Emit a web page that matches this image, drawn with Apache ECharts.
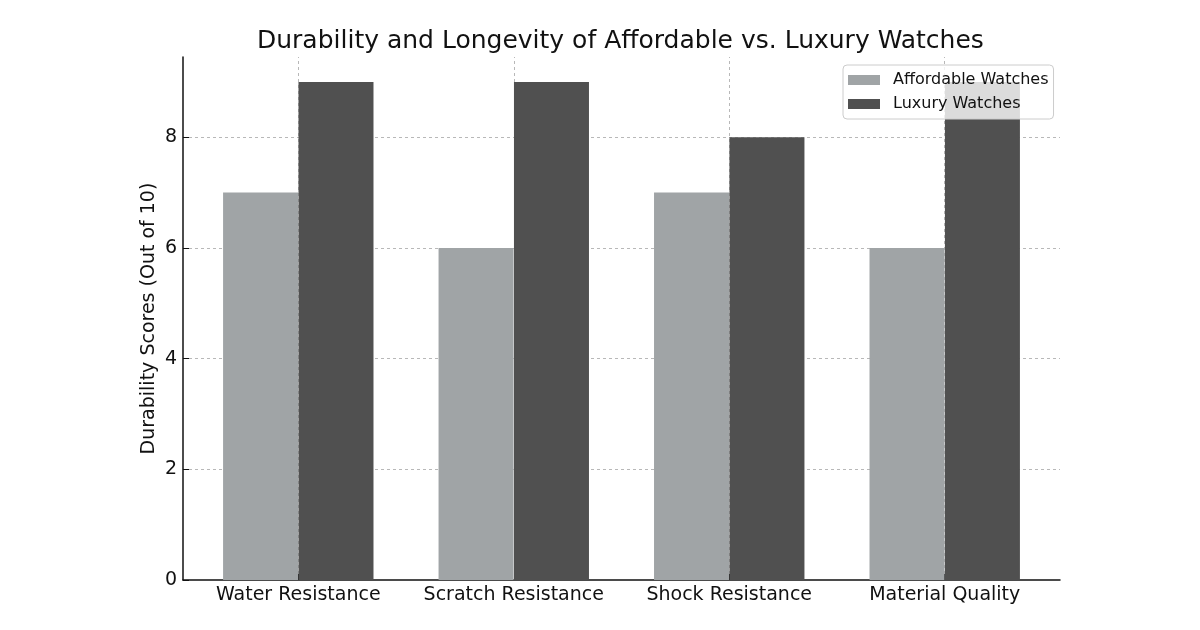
<!DOCTYPE html>
<html>
<head>
<meta charset="utf-8">
<script src="https://cdn.jsdelivr.net/npm/echarts@6/dist/echarts.min.js"></script>
<style>html,body{margin:0;padding:0;background:#fff}#c{width:1200px;height:630px}</style>
</head>
<body>
<div id="c"></div>
<script>
const categories = ['Water Resistance', 'Scratch Resistance', 'Shock Resistance', 'Material Quality'];
const affordable = [7, 6, 7, 6];
const luxury = [9, 9, 8, 9];
const yTicks = [0, 2, 4, 6, 8];
const seriesNames = ['Affordable Watches', 'Luxury Watches'];

const FONT = 'DejaVu Sans';
const GRID = '#b8b8b8';
const catIdx = categories.map((_, i) => i);

const chart = echarts.init(document.getElementById('c'), null, {renderer: 'canvas'});
chart.setOption({
  animation: false,
  backgroundColor: '#fff',
  title: {
    text: 'Durability and Longevity of Affordable vs. Luxury Watches',
    left: 252, top: 24,
    textStyle: {fontFamily: FONT, fontSize: 25, fontWeight: 'normal', color: '#111'}
  },
  legend: {
    orient: 'vertical', left: 843, top: 65,
    data: seriesNames,
    itemWidth: 32, itemHeight: 10, itemGap: 6,
    padding: [6, 5, 6, 5],
    backgroundColor: 'rgba(255,255,255,0.8)',
    borderColor: '#cccccc', borderWidth: 1, borderRadius: 4,
    textStyle: {fontFamily: FONT, fontSize: 16, color: '#111', lineHeight: 18, padding: [0, 0, 0, 8]},
    icon: 'rect'
  },
  grid: {left: 183, right: 140, top: 57, bottom: 50, containLabel: false},
  xAxis: {
    type: 'value', min: -0.535, max: 3.535,
    axisLine: {show: true, onZero: false, lineStyle: {color: '#111', width: 1.5}},
    axisTick: {show: true, inside: true, customValues: catIdx, length: 6, lineStyle: {color: '#111'}},
    axisLabel: {
      customValues: catIdx,
      formatter: v => categories[Math.round(v)] || '',
      fontFamily: FONT, fontSize: 19, color: '#111', margin: 6
    },
    splitLine: {show: false}
  },
  yAxis: {
    type: 'value', min: 0, max: 9.45, interval: 2,
    name: 'Durability Scores (Out of 10)',
    nameLocation: 'middle', nameGap: 24, nameMoveOverlap: false,
    nameTextStyle: {fontFamily: FONT, fontSize: 19, color: '#111'},
    axisLine: {show: true, onZero: false, lineStyle: {color: '#111', width: 1.5}},
    axisTick: {show: true, inside: true, customValues: yTicks, length: 6, lineStyle: {color: '#111'}},
    axisLabel: {
      customValues: yTicks,
      fontFamily: FONT, fontSize: 19, color: '#111', margin: 6
    },
    splitLine: {show: true, lineStyle: {type: [3, 3], color: ['transparent', GRID, GRID, GRID, GRID, 'transparent']}}
  },
  series: [
    {
      type: 'scatter', data: [], z: 0, silent: true,
      markLine: {
        silent: true, symbol: 'none', label: {show: false}, z: 0,
        lineStyle: {type: [3, 3], color: GRID, width: 1},
        data: catIdx.map(i => ({xAxis: i}))
      }
    },
    {
      name: seriesNames[0], type: 'bar', z: 2,
      barWidth: 75, barGap: '-100%',
      itemStyle: {color: '#a0a4a6'},
      data: affordable.map((v, i) => [i - 0.175, v])
    },
    {
      name: seriesNames[1], type: 'bar', z: 2,
      barWidth: 75, barGap: '-100%',
      itemStyle: {color: '#505050'},
      data: luxury.map((v, i) => [i + 0.175, v])
    }
  ]
});
</script>
</body>
</html>
